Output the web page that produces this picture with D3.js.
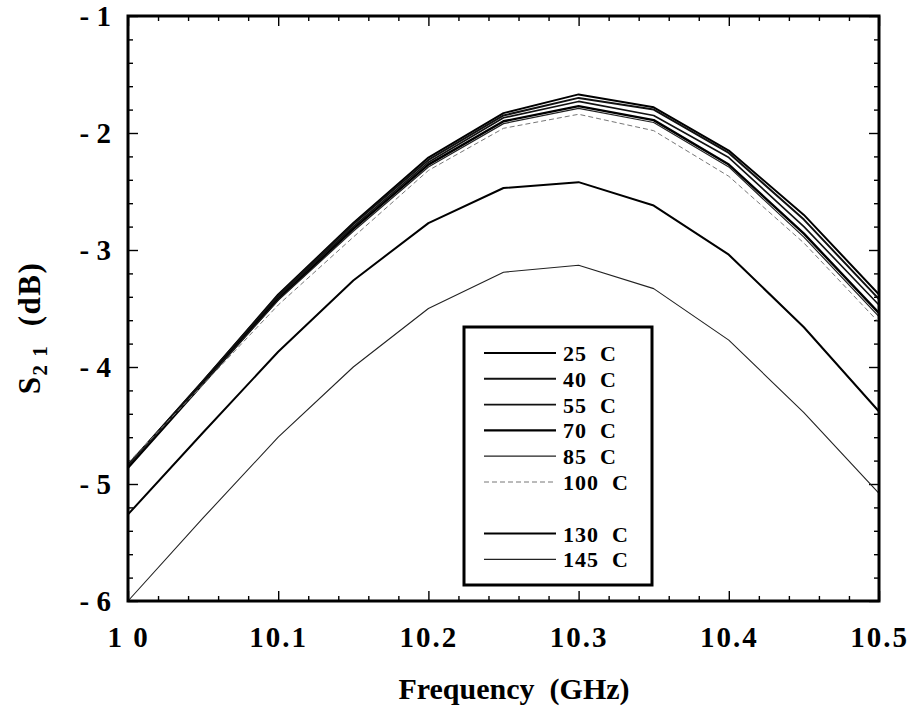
<!DOCTYPE html>
<html>
<head>
<meta charset="utf-8">
<script src="https://cdn.jsdelivr.net/npm/d3@7"></script>
<style>
  body { margin: 0; background: #fff; }
  text { font-family: "Liberation Serif", "Times New Roman", serif; font-weight: bold; fill: #000; }
</style>
</head>
<body>
<svg id="chart" width="921" height="709"></svg>
<script>
// frequency points (GHz)
const freqs = [10.0, 10.05, 10.1, 10.15, 10.2, 10.25, 10.3, 10.35, 10.4, 10.45, 10.5]

// S21 (dB) per temperature
const s25  = [-4.84, -4.12, -3.38, -2.77, -2.21, -1.83, -1.67, -1.78, -2.15, -2.70, -3.38]
const s40  = [-4.84, -4.12, -3.39, -2.78, -2.23, -1.85, -1.70, -1.80, -2.17, -2.74, -3.42]
const s55  = [-4.85, -4.13, -3.40, -2.80, -2.25, -1.87, -1.73, -1.85, -2.21, -2.80, -3.47]
const s70  = [-4.86, -4.14, -3.42, -2.82, -2.27, -1.90, -1.77, -1.89, -2.27, -2.86, -3.54]
const s85  = [-4.84, -4.14, -3.43, -2.84, -2.29, -1.92, -1.79, -1.91, -2.29, -2.89, -3.57]
const s100 = [-4.82, -4.15, -3.47, -2.89, -2.32, -1.96, -1.84, -1.98, -2.37, -2.94, -3.62]
const s130 = [-5.26, -4.56, -3.87, -3.26, -2.77, -2.47, -2.42, -2.62, -3.04, -3.66, -4.38]
const s145 = [-6.00, -5.29, -4.60, -4.00, -3.50, -3.19, -3.13, -3.33, -3.77, -4.39, -5.08]

const temps = ["25", "40", "55", "70", "85", "100", "130", "145"]
const seriesValues = [s25, s40, s55, s70, s85, s100, s130, s145]

// tick labels
const xTicks = [10.0, 10.1, 10.2, 10.3, 10.4, 10.5]
const xTickLabels = ["1 0", "10.1", "10.2", "10.3", "10.4", "10.5"]
const yTicks = [-1, -2, -3, -4, -5, -6]
const yTickLabels = ["- 1", "- 2", "- 3", "- 4", "- 5", "- 6"]

// line looks, one per series
const looks = [
  { w: 2.0, c: "#000", dash: null },
  { w: 2.0, c: "#111", dash: null },
  { w: 1.6, c: "#111", dash: null },
  { w: 2.4, c: "#000", dash: null },
  { w: 1.2, c: "#222", dash: null },
  { w: 1.0, c: "#777", dash: "5,3" },
  { w: 2.0, c: "#000", dash: null },
  { w: 1.1, c: "#222", dash: null }
]

const margin = { top: 16, right: 42, bottom: 108, left: 128 }
const W = 921, H = 709
const w = W - margin.left - margin.right
const h = H - margin.top - margin.bottom

const svg = d3.select("#chart")
svg.append("rect").attr("width", W).attr("height", H).attr("fill", "#fff")

const g = svg.append("g")
  .attr("transform", `translate(${margin.left},${margin.top})`)

const x = d3.scaleLinear().domain([10.0, 10.5]).range([0, w])
const y = d3.scaleLinear().domain([-6, -1]).range([h, 0])

const xMinor = d3.range(0, 26).map(i => 10 + i * 0.02).filter(v => Math.abs(v * 10 - Math.round(v * 10)) > 1e-6)
const yMinor = d3.range(0, 26).map(i => -6 + i * 0.2).filter(v => Math.abs(v - Math.round(v)) > 1e-6)

// minor ticks on all four sides, pointing inward
const minorAxes = [
  [d3.axisBottom(x).tickValues(xMinor), `translate(0,${h})`],
  [d3.axisTop(x).tickValues(xMinor), null],
  [d3.axisLeft(y).tickValues(yMinor), null],
  [d3.axisRight(y).tickValues(yMinor), `translate(${w},0)`]
]
minorAxes.forEach(([ax, tr]) => {
  const a = g.append("g").call(ax.tickSize(-5).tickFormat(""))
  if (tr) a.attr("transform", tr)
  a.select(".domain").remove()
  a.selectAll("line").attr("stroke", "#000").attr("stroke-width", 1.2)
})

// major ticks
const xb = g.append("g")
  .attr("transform", `translate(0,${h})`)
  .call(d3.axisBottom(x).tickValues(xTicks).tickSize(-10).tickPadding(25)
    .tickFormat((d, i) => xTickLabels[i]))
xb.selectAll("text").attr("font-size", 29).attr("letter-spacing", 2).style("white-space", "pre")

const yl = g.append("g")
  .call(d3.axisLeft(y).tickValues(yTicks).tickSize(-10).tickPadding(17)
    .tickFormat((d, i) => yTickLabels[i]))
yl.selectAll("text").attr("font-size", 29).style("white-space", "pre")

g.append("g").call(d3.axisTop(x).tickValues(xTicks).tickSize(-10).tickFormat(""))
g.append("g").attr("transform", `translate(${w},0)`)
  .call(d3.axisRight(y).tickValues(yTicks).tickSize(-10).tickFormat(""))

g.selectAll(".domain").remove()
g.selectAll(".tick line").attr("stroke", "#000").attr("stroke-width", 1.4)

// curves
const line = d3.line()
  .x((d, i) => x(freqs[i]))
  .y(d => y(d))

g.selectAll(".curve")
  .data(seriesValues)
  .enter()
  .append("path")
  .attr("class", "curve")
  .attr("d", d => line(d))
  .attr("fill", "none")
  .attr("stroke", (d, i) => looks[i].c)
  .attr("stroke-width", (d, i) => looks[i].w)
  .attr("stroke-dasharray", (d, i) => looks[i].dash)
  .attr("stroke-linejoin", "round")

// frame
g.append("rect")
  .attr("width", w).attr("height", h)
  .attr("fill", "none").attr("stroke", "#000").attr("stroke-width", 3)

// legend
const legend = svg.append("g").attr("transform", "translate(464,327)")
legend.append("rect")
  .attr("width", 188).attr("height", 258)
  .attr("fill", "#fff").attr("stroke", "#000").attr("stroke-width", 3)

const rowY = i => 26 + (i < 6 ? i : i + 1) * 25.8
const rows = legend.selectAll(".row")
  .data(temps)
  .enter()
  .append("g")
  .attr("transform", (d, i) => `translate(0,${rowY(i)})`)

rows.append("line")
  .attr("x1", 20).attr("x2", 92)
  .attr("stroke", (d, i) => looks[i].c)
  .attr("stroke-width", (d, i) => looks[i].w)
  .attr("stroke-dasharray", (d, i) => looks[i].dash)

rows.append("text")
  .attr("x", 99).attr("y", 8)
  .attr("font-size", 22)
  .attr("letter-spacing", 1)
  .style("white-space", "pre")
  .attr("fill", (d, i) => i === 5 ? "#555" : "#000")
  .text(d => d + "  C")

// axis titles
svg.append("text")
  .attr("x", 514).attr("y", 699)
  .attr("text-anchor", "middle")
  .attr("font-size", 30)
  .style("white-space", "pre")
  .text("Frequency  (GHz)")

const yt = svg.append("text")
  .attr("transform", "translate(40,328) rotate(-90)")
  .attr("text-anchor", "middle")
  .attr("font-size", 31)
  .attr("letter-spacing", 1.5)
  .style("white-space", "pre")
yt.append("tspan").text("S")
yt.append("tspan").attr("font-size", 21).attr("dy", 7).text("2 1")
yt.append("tspan").attr("dy", -7).text("  (dB)")
</script>
</body>
</html>
